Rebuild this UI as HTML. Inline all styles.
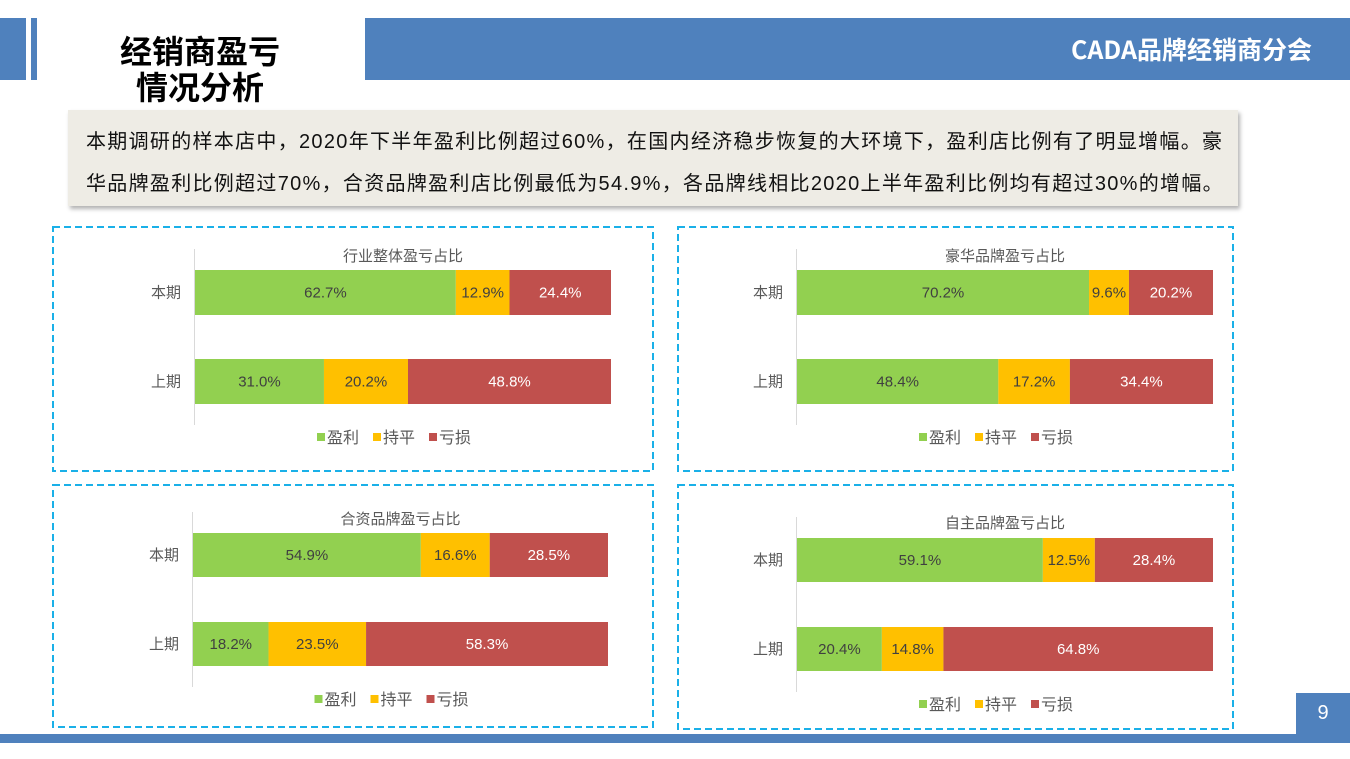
<!DOCTYPE html>
<html><head><meta charset="utf-8">
<style>
body{margin:0;width:1350px;height:759px;position:relative;background:#fff;overflow:hidden;font-family:"Liberation Sans","Noto Sans CJK SC",sans-serif}
.abs{position:absolute}
</style></head><body>
<div class="abs" style="left:0;top:18px;width:26px;height:62px;background:#4f81bd"></div>
<div class="abs" style="left:31px;top:18px;width:6px;height:62px;background:#4f81bd"></div>
<div class="abs" style="left:365px;top:18px;width:985px;height:62px;background:#4f81bd"></div>
<div class="abs" style="right:38px;top:31px;color:#fff;font-weight:bold;font-size:25px;font-family:'Noto Sans CJK SC','Liberation Sans',sans-serif;line-height:36px">CADA品牌经销商分会</div>
<div class="abs" style="left:100px;top:32px;width:200px;text-align:center;font-weight:bold;font-size:32px;line-height:36px;color:#000;font-family:'Noto Sans CJK SC',sans-serif">经销商盈亏<br>情况分析</div>
<div class="abs" style="left:68px;top:110px;width:1170px;height:96px;background:#eeece5;box-shadow:2px 3px 4px rgba(0,0,0,0.3);box-sizing:border-box;padding:11px 0 0 18px;font-size:20px;line-height:42px;color:#111;white-space:nowrap;letter-spacing:1.3px">本期调研的样本店中，2020年下半年盈利比例超过60%，在国内经济稳步恢复的大环境下，盈利店比例有了明显增幅。豪<br>华品牌盈利比例超过70%，合资品牌盈利店比例最低为54.9%，各品牌线相比2020上半年盈利比例均有超过30%的增幅。</div>
<div class="abs" style="left:0;top:734px;width:1350px;height:9px;background:#4f81bd"></div>
<div class="abs" style="left:1296px;top:693px;width:54px;height:41px;background:#4f81bd;color:#fff;font-size:20px;text-align:center;line-height:41px">9</div>
<svg id="s" class="abs" style="left:0;top:0" width="1350" height="759"></svg>
<script>
const titles=["行业整体盈亏占比","豪华品牌盈亏占比","合资品牌盈亏占比","自主品牌盈亏占比"];
const categories=["本期","上期"];
const series=["盈利","持平","亏损"];
const profit=[[62.7,31.0],[70.2,48.4],[54.9,18.2],[59.1,20.4]];
const flat=[[12.9,20.2],[9.6,17.2],[16.6,23.5],[12.5,14.8]];
const loss=[[24.4,48.8],[20.2,34.4],[28.5,58.3],[28.4,64.8]];
const colors=["#92d050","#ffc000","#c0504d"];
const labelColors=["#404040","#404040","#ffffff"];
const panels=[
 {px:53,py:227,pw:600,ph:244,ax:195,aw:416,r1:270,r2:359,bh:45,ty:256,ly:437},
 {px:678,py:227,pw:555,ph:244,ax:797,aw:416,r1:270,r2:359,bh:45,ty:256,ly:437},
 {px:53,py:485,pw:600,ph:242,ax:193,aw:415,r1:533,r2:622,bh:44,ty:519,ly:699},
 {px:678,py:485,pw:555,ph:244,ax:797,aw:416,r1:538,r2:627,bh:44,ty:523,ly:704}];
const NS="http://www.w3.org/2000/svg",svg=document.getElementById('s');
function mk(t,a,p){const e=document.createElementNS(NS,t);for(const k in a)e.setAttribute(k,a[k]);(p||svg).appendChild(e);return e;}
panels.forEach((P,i)=>{
 const g=mk('g',{});
 
 
 const b=mk('rect',{x:P.px,y:P.py,width:P.pw,height:P.ph,fill:'none',stroke:'#1ab0e8','stroke-width':2,'stroke-dasharray':'7 4'},g);
 
 
 const x=v=>P.ax+v/100*P.aw;
 const top=P.r1-21,bot=P.r2+P.bh+21;
 const ax=mk('line',{x1:P.ax-0.5,x2:P.ax-0.5,y1:top,y2:bot,stroke:'#d9d9d9'},g);
 
 
 const t=mk('text',{x:P.ax+P.aw/2,y:P.ty+5,'text-anchor':'middle','font-size':15,fill:'#595959'},g);t.textContent=titles[i];
 
 
 const data=[profit[i],flat[i],loss[i]];
 categories.forEach((c,j)=>{
  const y=j?P.r2:P.r1;
  const cl=mk('text',{x:P.ax-14,y:y+P.bh/2+5,'text-anchor':'end','font-size':15,fill:'#595959'},g);cl.textContent=c;
  
  
  let acc=0;
  data.forEach((d,k)=>{
   const v=d[j];
   const r=mk('rect',{x:x(acc),y:y,width:x(acc+v)-x(acc),height:P.bh,fill:colors[k]},g);
   
   
   const l=mk('text',{x:(x(acc)+x(acc+v))/2,y:y+P.bh/2+5,'text-anchor':'middle','font-size':15,fill:labelColors[k]},g);l.textContent=v.toFixed(1)+'%';
   
   
   acc+=v;
  });
 });
 const lx=P.ax+P.aw/2-86;
 series.forEach((s,k)=>{
  const ox=lx+k*56;
  const sq=mk('rect',{x:ox,y:P.ly-4,width:8,height:8,fill:colors[k]},g);
  
  
  const lt=mk('text',{x:ox+10,y:P.ly+6,'font-size':16,fill:'#595959'},g);lt.textContent=s;
  
  
 });
});
</script>
</body></html>
